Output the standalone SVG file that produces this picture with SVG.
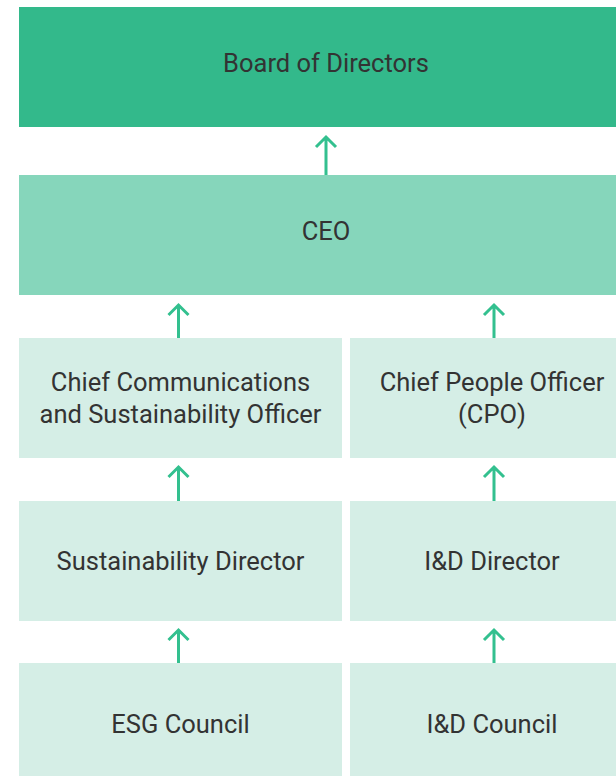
<svg xmlns="http://www.w3.org/2000/svg" width="616" height="776" viewBox="0 0 616 776">
  <style>
    .lbl { font-family: Roboto, "Liberation Sans", sans-serif; font-size: 25.5px; fill: #333333; text-anchor: middle; }
    .top { fill: #33b98b; }
    .mid { fill: #86d6bb; }
    .low { fill: #d5eee6; }
    .arr { stroke: #33c08f; stroke-width: 3; fill: none; }
  </style>
  <rect width="616" height="776" fill="#ffffff"/>

  <g id="board">
    <rect class="top" x="19" y="7" width="614" height="120"/>
    <text class="lbl" x="326" y="72">Board of Directors</text>
  </g>
  <g id="ceo">
    <rect class="mid" x="19" y="175" width="614" height="120"/>
    <text class="lbl" x="326" y="240">CEO</text>
  </g>
  <g id="ccso">
    <rect class="low" x="19" y="338" width="323" height="120"/>
    <text class="lbl" x="180.5" y="391">Chief Communications</text>
    <text class="lbl" x="180.5" y="423">and Sustainability Officer</text>
  </g>
  <g id="cpo">
    <rect class="low" x="350" y="338" width="284" height="120"/>
    <text class="lbl" x="492" y="391">Chief People Officer</text>
    <text class="lbl" x="492" y="423">(CPO)</text>
  </g>
  <g id="sust-director">
    <rect class="low" x="19" y="501" width="323" height="120"/>
    <text class="lbl" x="180.5" y="570">Sustainability Director</text>
  </g>
  <g id="id-director">
    <rect class="low" x="350" y="501" width="284" height="120"/>
    <text class="lbl" x="492" y="570">I&amp;D Director</text>
  </g>
  <g id="esg-council">
    <rect class="low" x="19" y="663" width="323" height="120"/>
    <text class="lbl" x="180.5" y="733">ESG Council</text>
  </g>
  <g id="id-council">
    <rect class="low" x="350" y="663" width="284" height="120"/>
    <text class="lbl" x="492" y="733">I&amp;D Council</text>
  </g>

  <!-- upward reporting arrows: shaft plus open chevron head -->
  <g id="connectors" class="arr">
    <path d="M326,175 V137 M316,147 L326,137 L336,147"/>
    <path d="M178.5,338 V305 M168.5,315 L178.5,305 L188.5,315"/>
    <path d="M494,338 V305 M484,315 L494,305 L504,315"/>
    <path d="M178.5,501 V467 M168.5,477 L178.5,467 L188.5,477"/>
    <path d="M494,501 V467 M484,477 L494,467 L504,477"/>
    <path d="M178.5,663 V630 M168.5,640 L178.5,630 L188.5,640"/>
    <path d="M494,663 V630 M484,640 L494,630 L504,640"/>
  </g>
</svg>
